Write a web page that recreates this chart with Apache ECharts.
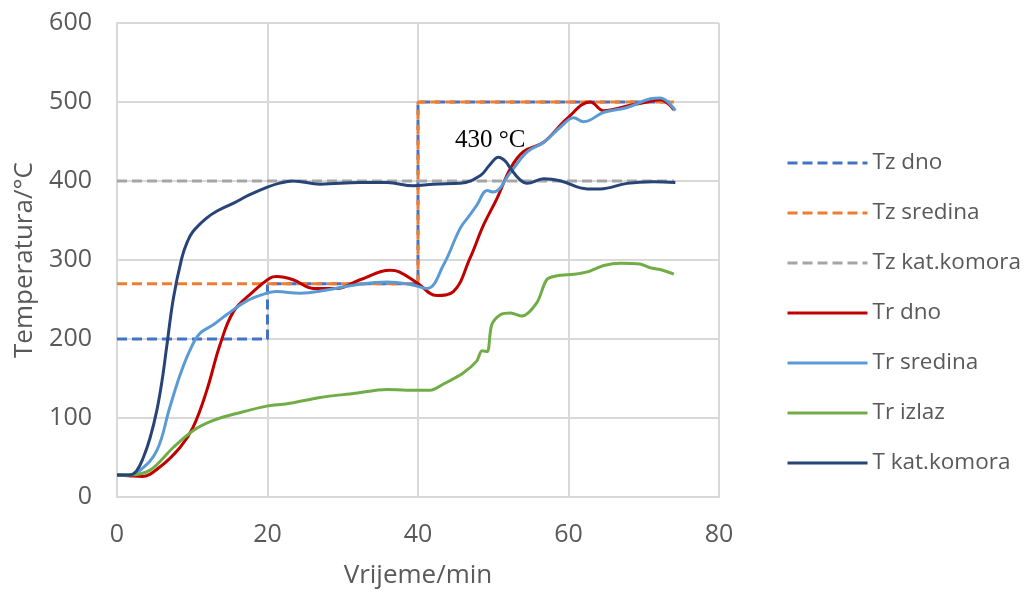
<!DOCTYPE html>
<html>
<head>
<meta charset="utf-8">
<script src="https://cdn.jsdelivr.net/npm/echarts@6/dist/echarts.min.js"></script>
<style>html,body{margin:0;padding:0;background:#fff;}#c{width:1029px;height:594px;}</style>
</head>
<body>
<div id="c"></div>
<script>
// Tick labels / axes
const xTicks = [0, 20, 40, 60, 80];
const yTicks = [0, 100, 200, 300, 400, 500, 600];

// Set-point series (Tz)
const tzDnoT = [0, 20, 20, 40, 40, 74];
const tzDnoV = [200, 200, 270, 270, 500, 500];
const tzSredT = [0, 40, 40, 74];
const tzSredV = [270, 270, 500, 500];
const tzKatT = [0, 74];
const tzKatV = [400, 400];

// Measured series (Tr)
const trDnoT = [0, 1.5, 3.3, 5.7, 8.4, 10.1, 11.9, 13.7, 15.5, 18.1, 20.3, 21.2, 23.4, 26.1, 29.2, 32.3, 36.3, 37.5, 39.9, 42.5, 44.7, 46.9, 48.7, 50.5, 52.3, 54, 56.7, 59.8, 62.9, 64.7, 67.8, 70.4, 72.2, 74];
const trDnoV = [28, 27, 26, 38, 63, 88, 134, 193, 235, 260, 277, 279, 275, 264, 264, 275, 287, 285, 271, 255, 260, 302, 344, 378, 416, 437, 449, 479, 500, 489, 495, 500, 503, 490];

const trSredT = [0, 1.5, 3.1, 5.3, 7.0, 8.4, 9.7, 11, 12.8, 14.6, 17.2, 19.9, 21.2, 24.3, 27.9, 31.4, 35.9, 39, 41.2, 43.4, 45.6, 46.9, 47.8, 49.2, 50, 52.3, 54.5, 56.7, 58.9, 60.7, 62, 64.7, 67.8, 70.9, 72.2, 74.2];
const trSredV = [28, 28, 34, 59, 113, 155, 186, 207, 218, 231, 248, 258, 260, 258, 262, 268, 272, 269, 264, 294, 340, 357, 369, 388, 386, 411, 437, 449, 468, 480, 475, 487, 493, 504, 505, 489];

const trIzlT = [0, 1.5, 4.4, 7.5, 10.1, 12.8, 16.4, 19.9, 22.6, 27, 31.4, 35.9, 39.9, 41.6, 43.4, 46, 47.8, 48.5, 49.2, 49.8, 51, 52.3, 53.8, 55.8, 57.1, 58.5, 60.7, 62.5, 64.7, 66.9, 69.5, 70.9, 72.2, 74];
const trIzlV = [28, 28, 34, 63, 84, 97, 107, 115, 118, 126, 131, 136, 135, 135, 143, 157, 172, 185, 184, 218, 231, 233, 229, 246, 275, 280, 282, 285, 293, 296, 295, 290, 288, 282];

const tKatT = [0, 1.7, 2.6, 3.5, 4.4, 5.3, 6.0, 6.6, 7.5, 8.6, 9.3, 10.1, 11.9, 13.3, 15.5, 17.5, 19.9, 21.5, 23.4, 27, 32.3, 35.9, 39.4, 42, 45.6, 48.3, 49.5, 50.7, 51.5, 52.3, 53.5, 54.5, 56.7, 59, 62.5, 64.2, 67.8, 71.3, 74.2];
const tKatV = [28, 28, 33, 50, 75, 110, 148, 190, 252, 302, 322, 336, 353, 362, 372, 382, 392, 397, 400, 396, 398, 398, 394, 396, 397, 407, 420, 430, 426, 416, 402, 397, 403, 400, 390, 390, 397, 399, 398];

const annoText = '430 °C';
const annoPos = [49.6, 451];

function zip(t, v) { return t.map((x, i) => [x, v[i]]); }

const chart = echarts.init(document.getElementById('c'), null, {renderer: 'canvas'});
const dash = [10, 5];
function line(name, t, v, color, dashed, smooth) {
  return {
    name: name, type: 'line', data: zip(t, v), symbol: 'none', smooth: smooth,
    lineStyle: {color: color, width: 3, type: dashed ? dash : 'solid'},
    itemStyle: {color: color},
    emphasis: {disabled: true}, animation: false
  };
}
const series = [
  line('Tz dno', tzDnoT, tzDnoV, '#4472C4', true, false),
  line('Tz sredina', tzSredT, tzSredV, '#ED7D31', true, false),
  line('Tz kat.komora', tzKatT, tzKatV, '#A5A5A5', true, false),
  line('Tr dno', trDnoT, trDnoV, '#C00000', false, 0.4),
  line('Tr sredina', trSredT, trSredV, '#5B9BD5', false, 0.4),
  line('Tr izlaz', trIzlT, trIzlV, '#70AD47', false, 0.3),
  line('T kat.komora', tKatT, tKatV, '#264478', false, 0.4)
];
series[6].markPoint = {
  symbol: 'circle', symbolSize: 0, silent: true, animation: false,
  data: [{coord: annoPos}],
  label: {show: true, position: 'inside', formatter: annoText,
    fontFamily: 'Liberation Serif', fontSize: 25, color: '#000'}
};

const axisCol = '#d9d9d9';
const sans = 'Open Sans';
chart.setOption({
  animation: false,
  backgroundColor: '#fff',
  grid: {left: 117, right: 310, top: 23, bottom: 94, containLabel: false},
  legend: {
    orient: 'vertical', left: 781, top: 146,
    itemWidth: 80, itemHeight: 4, itemGap: 26,
    itemStyle: {opacity: 0},
    lineStyle: {width: 3},
    textStyle: {fontFamily: sans, fontSize: 22.5, color: '#595959', lineHeight: 24},
    data: series.map(s => s.name)
  },
  xAxis: {
    type: 'value', min: xTicks[0], max: xTicks[xTicks.length - 1], interval: 20,
    name: 'Vrijeme/min', nameLocation: 'middle', nameGap: 66,
    nameTextStyle: {fontFamily: sans, fontSize: 26, color: '#595959'},
    axisLine: {show: true, lineStyle: {color: axisCol, width: 2}},
    axisTick: {show: false},
    axisLabel: {margin: 25, fontFamily: sans, fontSize: 25, color: '#595959'},
    splitLine: {show: true, lineStyle: {color: axisCol, width: 2}}
  },
  yAxis: {
    type: 'value', min: yTicks[0], max: yTicks[yTicks.length - 1], interval: 100,
    name: 'Temperatura/°C', nameLocation: 'middle', nameGap: 79,
    nameTextStyle: {fontFamily: sans, fontSize: 26, color: '#595959'},
    axisLine: {show: true, lineStyle: {color: axisCol, width: 2}},
    axisTick: {show: false},
    axisLabel: {margin: 25, fontFamily: sans, fontSize: 25, color: '#595959'},
    splitLine: {show: true, lineStyle: {color: axisCol, width: 2}}
  },
  series: series
});
</script>
</body>
</html>
